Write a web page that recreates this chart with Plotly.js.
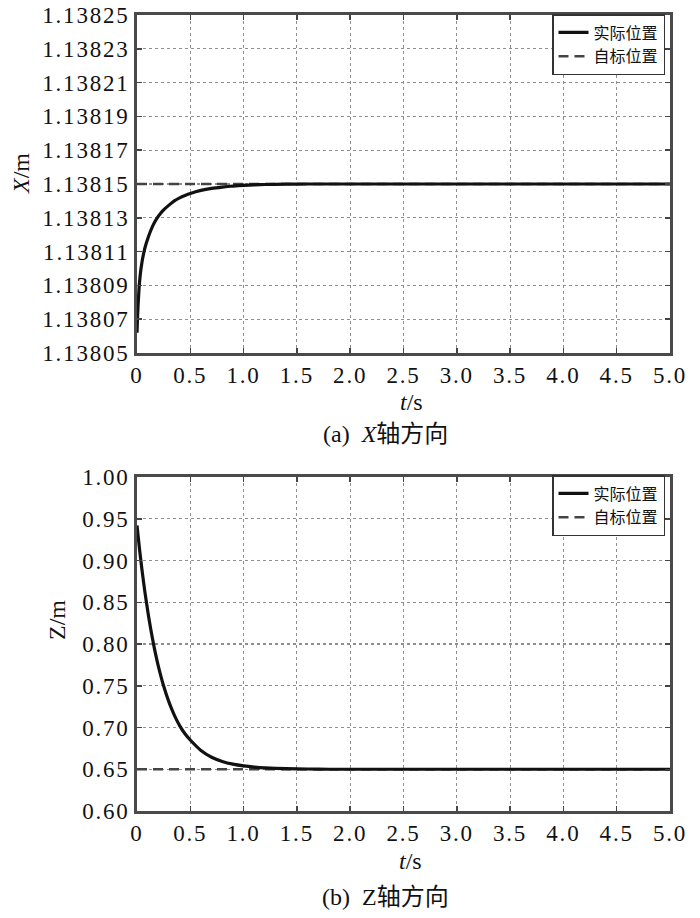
<!DOCTYPE html>
<html>
<head>
<meta charset="utf-8">
<script src="https://cdn.plot.ly/plotly-3.0.1.min.js"></script>
<style>
html,body{margin:0;padding:0;background:#fff}
#chart{width:700px;height:918px}
#chart .xtick text, #chart .ytick text, #chart .x2tick text, #chart .y2tick text{letter-spacing:1.8px}
</style>
</head>
<body>
<div id="chart"></div>
<script>
// (a) X direction: time samples (s) and actual position (m)
const tX = [0, 0.005, 0.01, 0.02, 0.03, 0.04, 0.05, 0.066, 0.08, 0.1, 0.12, 0.15, 0.185, 0.22, 0.25, 0.3, 0.35, 0.4, 0.45, 0.5, 0.6, 0.7, 0.8, 0.9, 1.0, 1.1, 1.2, 1.4, 1.6, 2.0, 3.0, 4.0, 5.0];
const xActual = [1.138062, 1.138071, 1.138078, 1.138089, 1.138096, 1.138101, 1.138105, 1.138110, 1.1381135, 1.1381175, 1.138121, 1.1381255, 1.1381295, 1.1381325, 1.1381347, 1.1381375, 1.13814, 1.1381418, 1.1381432, 1.1381444, 1.1381462, 1.1381474, 1.1381482, 1.1381488, 1.1381492, 1.1381495, 1.1381497, 1.1381499, 1.13815, 1.13815, 1.13815, 1.13815, 1.13815];
const xTargetT = [0, 5.0];
const xTarget = [1.13815, 1.13815];

// (b) Z direction
const tZ = [0, 0.025, 0.05, 0.075, 0.1, 0.125, 0.15, 0.175, 0.2, 0.25, 0.3, 0.35, 0.4, 0.45, 0.5, 0.6, 0.7, 0.8, 0.9, 1.0, 1.1, 1.2, 1.4, 1.6, 1.8, 2.0, 3.0, 4.0, 5.0];
const zActual = [0.942, 0.912, 0.8855, 0.8615, 0.840, 0.8206, 0.8032, 0.7876, 0.7736, 0.7497, 0.7304, 0.7149, 0.7023, 0.6925, 0.685, 0.6725, 0.6644, 0.6594, 0.6561, 0.654, 0.6526, 0.6517, 0.6507, 0.6503, 0.650, 0.650, 0.650, 0.650, 0.650];
const zTargetT = [0, 5.0];
const zTarget = [0.65, 0.65];

const seriesNames = ['实际位置', '自标位置'];
const xTickVals = [0, 0.5, 1.0, 1.5, 2.0, 2.5, 3.0, 3.5, 4.0, 4.5, 5.0];
const xTickText = ['0', '0.5', '1.0', '1.5', '2.0', '2.5', '3.0', '3.5', '4.0', '4.5', '5.0'];
const yXTickVals = [1.13805, 1.13807, 1.13809, 1.13811, 1.13813, 1.13815, 1.13817, 1.13819, 1.13821, 1.13823, 1.13825];
const yXTickText = ['1.13805', '1.13807', '1.13809', '1.13811', '1.13813', '1.13815', '1.13817', '1.13819', '1.13821', '1.13823', '1.13825'];
const yZTickVals = [0.60, 0.65, 0.70, 0.75, 0.80, 0.85, 0.90, 0.95, 1.00];
const yZTickText = ['0.60', '0.65', '0.70', '0.75', '0.80', '0.85', '0.90', '0.95', '1.00'];
const axisTitles = ['<i>X</i>/m', 'Z/m', '<i>t</i>/s'];
const captions = ['(a)  <i>X</i>轴方向', '(b)  Z轴方向'];

const serif = '"Liberation Serif", "Times New Roman", "Noto Sans CJK SC", serif';
const cjk = '"Noto Sans CJK SC", sans-serif';

const solid = {color: '#111', width: 3.2, shape: 'spline', smoothing: 0.5};
const dashed = {color: '#444', width: 2.6, dash: '10px,6px'};

const traces = [
  {x: xTargetT, y: xTarget, mode: 'lines', name: seriesNames[1], line: dashed, xaxis: 'x', yaxis: 'y', legend: 'legend'},
  {x: tX, y: xActual, mode: 'lines', name: seriesNames[0], line: solid, xaxis: 'x', yaxis: 'y', legend: 'legend'},
  {x: zTargetT, y: zTarget, mode: 'lines', name: seriesNames[1], line: dashed, xaxis: 'x2', yaxis: 'y2', legend: 'legend2'},
  {x: tZ, y: zActual, mode: 'lines', name: seriesNames[0], line: solid, xaxis: 'x2', yaxis: 'y2', legend: 'legend2'}
];

const tickFont = {family: serif, size: 23, color: '#111'};
const titleFont = {family: serif, size: 24, color: '#111'};

const axisCommon = {
  showline: true, mirror: 'ticks', linecolor: '#4a4a4a', linewidth: 2.8,
  ticks: 'inside', ticklen: 5, tickcolor: '#444', tickwidth: 1.5,
  showgrid: true, gridcolor: '#8f8f8f', griddash: 'dot', gridwidth: 1.2,
  zeroline: false,
  tickfont: tickFont
};

const xDom = [137/700, 670/700];
const legendCommon = {xanchor: 'right', yanchor: 'top', traceorder: 'reversed',
  bgcolor: '#fff', bordercolor: '#333', borderwidth: 1.5, font: {family: cjk, size: 16, color: '#111'},
  tracegroupgap: 0, itemwidth: 30};

function ann(x, y, text, angle) {
  return {xref: 'paper', yref: 'paper', x: x/700, y: 1 - y/918, xanchor: 'center', yanchor: 'middle',
    showarrow: false, text: text, textangle: angle || 0, font: titleFont};
}

const layout = {
  width: 700, height: 918,
  margin: {l: 0, r: 0, t: 0, b: 0},
  paper_bgcolor: '#fff', plot_bgcolor: '#fff',
  showlegend: true,
  xaxis: Object.assign({}, axisCommon, {domain: xDom, range: [0, 5], tickmode: 'array', tickvals: xTickVals, ticktext: xTickText, anchor: 'y'}),
  yaxis: Object.assign({}, axisCommon, {domain: [1 - 353/918, 1 - 15/918], range: [1.13805, 1.13825], tickmode: 'array', tickvals: yXTickVals, ticktext: yXTickText, anchor: 'x'}),
  xaxis2: Object.assign({}, axisCommon, {domain: xDom, range: [0, 5], tickmode: 'array', tickvals: xTickVals, ticktext: xTickText, anchor: 'y2'}),
  yaxis2: Object.assign({}, axisCommon, {domain: [1 - 811/918, 1 - 477/918], range: [0.60, 1.00], tickmode: 'array', tickvals: yZTickVals, ticktext: yZTickText, anchor: 'x2'}),
  legend: Object.assign({x: 665/700, y: 1 - 14/918}, legendCommon),
  legend2: Object.assign({x: 665/700, y: 1 - 475/918}, legendCommon),
  annotations: [
    ann(21, 174, axisTitles[0], -90),
    ann(57, 620, axisTitles[1], -90),
    ann(412, 402, axisTitles[2]),
    ann(410, 861, axisTitles[2]),
    ann(386, 434, captions[0]),
    ann(385, 897, captions[1])
  ]
};

Plotly.newPlot('chart', traces, layout, {displayModeBar: false, staticPlot: true});
</script>
</body>
</html>
